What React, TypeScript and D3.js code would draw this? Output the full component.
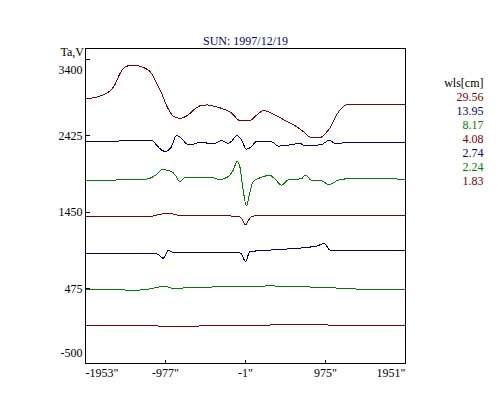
import * as d3 from "d3";

// wavelengths shown in the legend (cm), same order as the curves
const wavelengths = ["29.56", "13.95", "8.17", "4.08", "2.74", "2.24", "1.83"];
const colors = ["#800000", "#000080", "#008000", "#800000", "#000080", "#008000", "#800000"];

const yTicks = [3400, 2425, 1450, 475, -500];
const xTicks = [-1953, -977, -1, 975, 1951];

// [arcsec, Ta] pairs
const scan2956: [number, number][] = [
  [-1953, 2895], [-1718, 2955], [-1596, 3074], [-1535, 3215], [-1474, 3300], [-1392, 3326],
  [-1327, 3323], [-1270, 3304], [-1209, 3279], [-1148, 3224], [-1095, 3113], [-1026, 2972],
  [-973, 2832], [-925, 2733], [-872, 2669], [-803, 2649], [-701, 2691], [-620, 2768],
  [-534, 2815], [-461, 2819], [-376, 2800], [-254, 2761], [-168, 2713], [-71, 2621],
  [51, 2621], [137, 2691], [222, 2749], [320, 2710], [417, 2659], [503, 2608], [621, 2542],
  [710, 2474], [804, 2401], [905, 2401], [979, 2461], [1027, 2521], [1109, 2691],
  [1174, 2780], [1251, 2828], [1393, 2823], [1637, 2823], [1881, 2825], [1951, 2828],
];
const scan1395: [number, number][] = [
  [-1953, 2350], [-1779, 2350], [-1535, 2359], [-1291, 2365], [-1144, 2365], [-1087, 2308],
  [-1047, 2263], [-986, 2225], [-949, 2238], [-912, 2273], [-843, 2427], [-762, 2372],
  [-721, 2321], [-668, 2308], [-557, 2342], [-457, 2330], [-400, 2321], [-294, 2363],
  [-213, 2330], [-168, 2359], [-111, 2429], [-50, 2372], [11, 2253], [72, 2286], [133, 2353],
  [222, 2346], [316, 2350], [397, 2293], [539, 2308], [661, 2327], [735, 2295], [926, 2314],
  [1019, 2365], [1109, 2321], [1210, 2340], [1308, 2342], [1951, 2342],
];
const scan817: [number, number][] = [
  [-1953, 1857], [-1535, 1861], [-1193, 1874], [-1144, 1893], [-1095, 1925], [-1010, 1998],
  [-949, 1982], [-900, 1967], [-851, 1912], [-803, 1839], [-742, 1890], [-557, 1893],
  [-416, 1895], [-315, 1865], [-213, 1903], [-156, 1976], [-101, 2097], [-70, 2031],
  [-30, 1733], [11, 1529], [51, 1695], [92, 1839], [194, 1895], [295, 1921], [369, 1861],
  [438, 1793], [519, 1861], [682, 1877], [729, 1925], [804, 1857], [926, 1852], [1015, 1801],
  [1129, 1857], [1296, 1880], [1951, 1871],
];
const scan408: [number, number][] = [
  [-1953, 1392], [-1169, 1392], [-1108, 1407], [-949, 1436], [-864, 1420], [-782, 1401],
  [-192, 1401], [-94, 1395], [-50, 1372], [-1, 1286], [51, 1372], [100, 1401], [417, 1405],
  [1951, 1405],
];
const scan274: [number, number][] = [
  [-1953, 925], [-1108, 925], [-1059, 903], [-1006, 861], [-945, 958], [-864, 932],
  [-557, 941], [-192, 937], [-70, 928], [-50, 916], [-1, 817], [51, 945], [316, 967],
  [519, 980], [763, 1001], [885, 1022], [958, 1052], [1027, 967], [1129, 954], [1951, 954],
];
const scan224: [number, number][] = [
  [-1953, 456], [-1514, 462], [-1437, 449], [-1169, 469], [-986, 504], [-884, 475],
  [-701, 485], [-213, 498], [316, 507], [600, 498], [926, 490], [1332, 469], [1739, 456],
  [1951, 456],
];
const scan183: [number, number][] = [
  [-1953, 0], [-1169, -1], [-864, -13], [-557, -4], [51, 0], [539, 15], [905, 11],
  [1270, 2], [1951, 2],
];

const scans = [scan2956, scan1395, scan817, scan408, scan274, scan224, scan183];

const LEFT = 85.5;
const RIGHT = 405.5;
const TOP = 48.5;
const BOTTOM = 363.5;
const font = "'Liberation Serif', 'Times New Roman', serif";

export default function App() {
  const x = d3.scaleLinear().domain([-1953, 1951]).range([LEFT, RIGHT]);
  const y = d3.scaleLinear().domain([-483, 3540]).range([BOTTOM, TOP]);

  const line = d3
    .line<[number, number]>()
    .x(d => x(d[0]))
    .y(d => y(d[1]))
    .curve(d3.curveMonotoneX);

  return (
    <svg
      width={500}
      height={400}
      style={{ position: "absolute", left: 0, top: 0, background: "#fff" }}
      fontFamily={font}
      fontSize={12}
    >
      <text x={(LEFT + RIGHT) / 2} y={44.5} textAnchor="middle" fill="#000080">
        SUN: 1997/12/19
      </text>
      <text x={84} y={55.5} textAnchor="end" fill="#000">Ta,V</text>

      {scans.map((s, i) => (
        <path
          key={i}
          d={line(s) ?? ""}
          fill="none"
          stroke={colors[i]}
          strokeWidth={1}
          shapeRendering="crispEdges"
        />
      ))}

      <rect
        x={LEFT}
        y={TOP}
        width={RIGHT - LEFT}
        height={BOTTOM - TOP}
        fill="none"
        stroke="#000"
        strokeWidth={1}
        shapeRendering="crispEdges"
      />

      {yTicks.map(t => {
        const py = y(t);
        const ly = Math.min(Math.max(py, TOP + 21.5), BOTTOM - 10.5);
        return (
          <g key={t}>
            {py >= TOP && py <= BOTTOM && (
              <line x1={LEFT} x2={LEFT + 4} y1={py} y2={py} stroke="#000" shapeRendering="crispEdges" />
            )}
            <text x={82.5} y={ly} dy="0.35em" textAnchor="end" fill="#000">{t}</text>
          </g>
        );
      })}

      {xTicks.map((t, i) => {
        const px = x(t);
        const anchor = i === 0 ? "start" : i === xTicks.length - 1 ? "end" : "middle";
        return (
          <g key={t}>
            <line x1={px} x2={px} y1={BOTTOM} y2={BOTTOM - 4} stroke="#000" shapeRendering="crispEdges" />
            <text x={px} y={377} textAnchor={anchor} fill="#000">{`${t}"`}</text>
          </g>
        );
      })}

      <text x={483.5} y={87} textAnchor="end" fill="#000">wls[cm]</text>
      {wavelengths.map((w, i) => (
        <text key={w} x={483.5} y={100.7 + i * 14.1} textAnchor="end" fill={colors[i]}>
          {w}
        </text>
      ))}
    </svg>
  );
}
